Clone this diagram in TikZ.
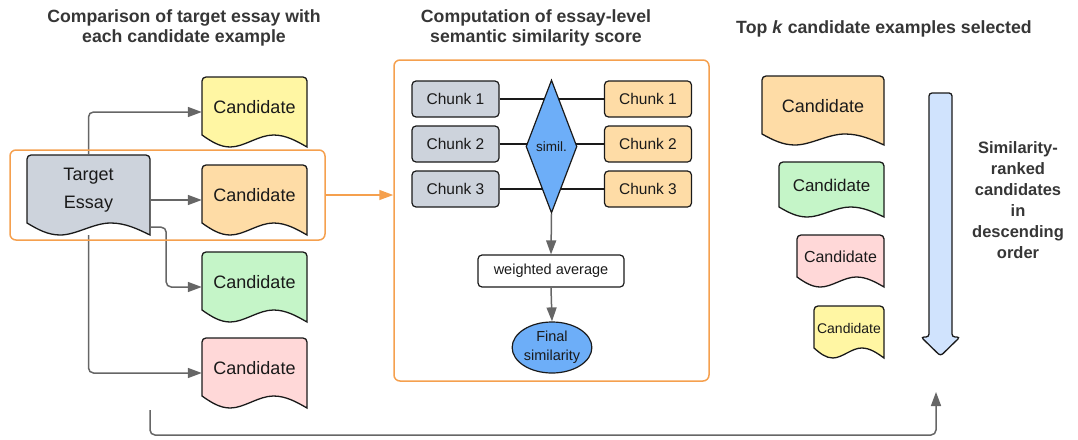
\documentclass[tikz,border=0pt]{standalone}
\usepackage{fontspec}
\setmainfont{Liberation Sans}
\usetikzlibrary{arrows.meta,shapes.geometric}
\definecolor{docyellow}{HTML}{FFF6A3}
\definecolor{docorange}{HTML}{FEDCA6}
\definecolor{docgreen}{HTML}{C5F5C8}
\definecolor{docpink}{HTML}{FFD8D8}
\definecolor{docgray}{HTML}{CDD3DC}
\definecolor{simblue}{HTML}{6DAEF8}
\definecolor{arrowblue}{HTML}{D0E3FD}
\definecolor{hlorange}{HTML}{F5A04E}
\definecolor{conngray}{HTML}{666666}
\definecolor{titlegray}{HTML}{363636}
\definecolor{ink}{HTML}{1A1A1A}
\tikzset{
  docline/.style={draw=ink, line width=1.3pt},
  boxarea/.style={draw=none, fill=none, inner sep=0pt, rectangle},
  doctext/.style={text=ink, inner sep=0pt, align=center},
  conn/.style={draw=conngray, line width=1.5pt, rounded corners=5pt,
    -{Triangle[length=14pt,width=10pt]}},
  hlbox/.style={draw=hlorange, line width=1.5pt, rounded corners=6pt, inner sep=0pt},
  chunkbox/.style={draw=ink, line width=1.2pt, rounded corners=4pt, minimum width=87pt,
    minimum height=36pt, inner sep=0pt, text=ink, font=\fontsize{15.5}{18}\selectfont},
  pairline/.style={draw=ink, line width=1.2pt},
  titletext/.style={text=titlegray, align=center, inner sep=0pt,
    font=\fontsize{17.7}{20}\selectfont\bfseries},
}
% #1 name, #2 x, #3 top y, #4 w, #5 h, #6 wave amplitude, #7 fill, #8 font, #9 text
\newcommand\docnode[9]{%
  \path[docline, fill=#7] ({#2+#4},{#3+#5}) [rounded corners=4pt] -- ({#2+#4},{#3}) -- ({#2},{#3})
    [sharp corners] -- ({#2},{#3+#5-#6})
    .. controls ({#2+0.09*#4},{#3+#5-0.45*#6}) and ({#2+0.17*#4},{#3+#5}) .. ({#2+0.27*#4},{#3+#5})
    .. controls ({#2+0.4*#4},{#3+#5}) and ({#2+0.54*#4},{#3+#5-#6}) .. ({#2+0.68*#4},{#3+#5-#6})
    .. controls ({#2+0.8*#4},{#3+#5-#6}) and ({#2+0.9*#4},{#3+#5-0.5*#6}) .. ({#2+#4},{#3+#5}) -- cycle;
  \node[boxarea, minimum width=#4pt, minimum height=#5pt] (#1) at ({#2+0.5*#4},{#3+0.5*#5}) {};
  \node[doctext, font=#8] (#1t) at ({#2+0.5*#4},{#3+0.5*(#5-#6)+1}) {#9};
}
\begin{document}
\begin{tikzpicture}[x=1pt,y=-1pt]
\useasboundingbox (0,0) rectangle (1078,439);

% titles
\node[titletext] (title1) at (184,27.5) {Comparison of target essay with\\each candidate example};
\node[titletext] (title2) at (536,27.5) {Computation of essay-level\\semantic similarity score};
\node[titletext, anchor=base] (title3) at (884,33) {Top \textit{k} candidate examples selected};

% left column documents
\docnode{T}{27}{155}{123}{80}{12}{docgray}{\fontsize{18}{28}\selectfont}{Target\\Essay}
\docnode{c1}{202}{77}{105}{70}{12}{docyellow}{\fontsize{18}{22}\selectfont}{Candidate}
\docnode{c2}{202}{165}{105}{70}{12}{docorange}{\fontsize{18}{22}\selectfont}{Candidate}
\docnode{c3}{202}{252}{105}{70}{12}{docgreen}{\fontsize{18}{22}\selectfont}{Candidate}
\docnode{c4}{202}{338}{105}{70}{12}{docpink}{\fontsize{18}{22}\selectfont}{Candidate}

% connectors from target essay
\draw[conn] (T.north) |- (c1.west);
\draw[conn] (T.east |- c2.west) -- (c2.west);
\draw[conn] ([yshift=8pt]T.south east) -- ++(16,0) |- (c3.west);
\draw[conn] (T.south) |- (c4.west);

% highlight box
\node[hlbox, minimum width=315pt, minimum height=90pt] (hl) at (167.5,195) {};

% middle panel
\node[hlbox, minimum width=315pt, minimum height=321pt] (mid) at (551.5,220.5) {};
\draw[draw=hlorange, line width=1.5pt, -{Triangle[length=14pt,width=10pt]}] (hl.east) -- (hl.east -| mid.west);

\node[chunkbox, fill=docgray] (L1) at (455.5,99) {Chunk 1};
\node[chunkbox, fill=docgray] (L2) at (455.5,144) {Chunk 2};
\node[chunkbox, fill=docgray] (L3) at (455.5,189) {Chunk 3};
\node[chunkbox, fill=docorange] (R1) at (648,99) {Chunk 1};
\node[chunkbox, fill=docorange] (R2) at (648,144) {Chunk 2};
\node[chunkbox, fill=docorange] (R3) at (648,189) {Chunk 3};
\draw[pairline] (L1.east) -- (R1.west);
\draw[pairline] (L2.east) -- (R2.west);
\draw[pairline] (L3.east) -- (R3.west);
\node[diamond, draw=ink, line width=1.2pt, fill=simblue, minimum width=51pt, minimum height=133pt,
  inner sep=0pt, text=ink, font=\fontsize{13.5}{15}\selectfont] (sim) at (551.5,146.5) {simil.};
\node[draw=ink, line width=1.2pt, fill=white, rounded corners=4pt, minimum width=146pt,
  minimum height=32pt, inner sep=0pt, text=ink, font=\fontsize{14.5}{16}\selectfont] (wavg) at (551,271) {weighted average};
\node[ellipse, draw=ink, line width=1.2pt, fill=simblue, minimum width=70pt, minimum height=51pt,
  inner sep=0pt, align=center, text=ink, font=\fontsize{14.5}{19}\selectfont] (final) at (552,347.5) {Final\\similarity};
\draw[conn] (sim.south) -- (wavg.north);
\draw[conn] (wavg.south) -- (final.north);

% right column documents
\docnode{r1}{762}{76}{122}{69}{11}{docorange}{\fontsize{18}{22}\selectfont}{Candidate}
\docnode{r2}{779}{162}{105}{55}{10}{docgreen}{\fontsize{17}{20}\selectfont}{Candidate}
\docnode{r3}{797}{235}{87}{52}{10}{docpink}{\fontsize{16}{19}\selectfont}{Candidate}
\docnode{r4}{814}{306}{70}{52}{10}{docyellow}{\fontsize{14}{17}\selectfont}{Candidate}

% big descending arrow
\path[draw=ink, line width=1.3pt, fill=arrowblue, rounded corners=3pt]
  (929,93) -- (952,93) -- (952,337) -- (960,337) -- (940.5,356) -- (921,337) -- (929,337) -- cycle;
\node[titletext, font=\fontsize{16.5}{21}\selectfont\bfseries] (side) at (1018,200)
  {Similarity-\\ranked\\candidates\\in\\descending\\order};

% bottom return connector
\coordinate (bstart) at (150,410);
\coordinate (bend) at (936,392);
\draw[conn] (bstart) -- ++(0,25) -| (bend);
\end{tikzpicture}
\end{document}
